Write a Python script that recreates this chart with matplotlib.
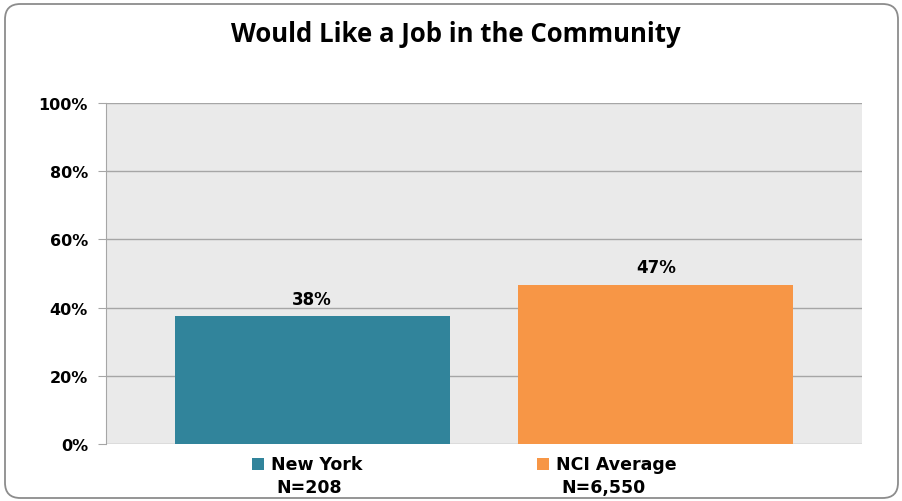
import matplotlib.pyplot as plt
from matplotlib.patches import FancyBboxPatch, Rectangle

TITLE = "Would Like a Job in the Community"
CATEGORIES = ["New York", "NCI Average"]
SAMPLE_SIZES = ["N=208", "N=6,550"]
VALUES = [37.5, 46.7]
VALUE_LABELS = ["38%", "47%"]
COLORS = ["#31849B", "#F79646"]
Y_TICKS = [0, 20, 40, 60, 80, 100]

W, H = 902, 502
LEGEND_LEFT_PX = [252, 537]  # left edge of each legend entry

fig = plt.figure(figsize=(W / 100, H / 100), dpi=100)

# rounded gray frame around the whole chart
frame = FancyBboxPatch(
    (5 / W, 3 / H), 893 / W, 494 / H,
    boxstyle="round,pad=0,rounding_size=0.017",
    transform=fig.transFigure, facecolor="none",
    edgecolor="#8C8C8C", linewidth=1.3, zorder=-1,
    mutation_aspect=W / H,
)
fig.patches.append(frame)

ax = fig.add_axes([106 / W, 57 / H, 756 / W, 341 / H])
ax.set_facecolor("#EAEAEA")

x = list(range(len(CATEGORIES)))
ax.bar(x, VALUES, width=0.8, color=COLORS, zorder=3)

ax.set_xlim(-0.6, 1.6)
ax.set_ylim(0, 100)
ax.set_yticks(Y_TICKS)
ax.set_yticklabels([f"{t}%" for t in Y_TICKS], fontsize=11.5, fontweight="bold",
                   family="DejaVu Sans")
ax.set_xticks([])
ax.grid(axis="y", color="#A6A6A6", linewidth=1, zorder=1)
ax.set_axisbelow(True)
ax.tick_params(axis="y", length=6, color="#A6A6A6", pad=7)

for side in ["top", "right", "bottom"]:
    ax.spines[side].set_visible(False)
ax.spines["left"].set_color("#A6A6A6")

for xi, v, lab in zip(x, VALUES, VALUE_LABELS):
    ax.annotate(lab, (xi, v), xytext=(0, 12.5), textcoords="offset points",
                ha="center", va="center", fontsize=12, fontweight="bold",
                family="DejaVu Sans")

# legend-like labels under the plot
for left, cat, n, col in zip(LEGEND_LEFT_PX, CATEGORIES, SAMPLE_SIZES, COLORS):
    fig.patches.append(Rectangle((left / W, 1 - 471 / H), 12 / W, 12 / H,
                                 transform=fig.transFigure, facecolor=col,
                                 edgecolor="none"))
    fig.text((left + 19) / W, 1 - 465 / H, cat, ha="left", va="center",
             fontsize=12.5, fontweight="bold", family="DejaVu Sans")
    fig.text((left + 24) / W, 1 - 488 / H, n, ha="left", va="center",
             fontsize=12.5, fontweight="bold", family="DejaVu Sans")

fig.text(456 / W, 1 - 35 / H, TITLE, ha="center", va="center", fontsize=18.5,
         fontweight="bold", family="Open Sans")

fig.savefig("out.png", dpi=100)
